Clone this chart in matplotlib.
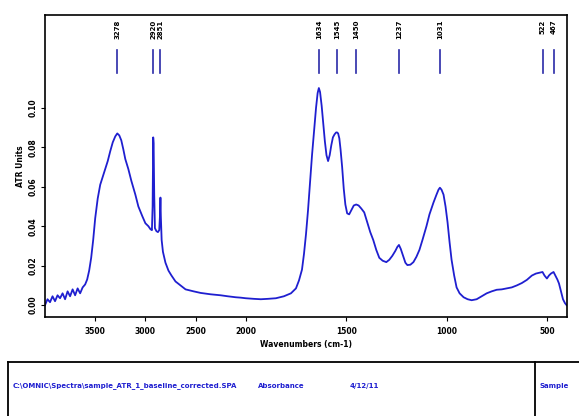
import numpy as np
import matplotlib
matplotlib.use("Agg")
from matplotlib import pyplot as plt
from matplotlib.lines import Line2D
import matplotlib.transforms as mtransforms

# spectrum (wavenumber cm-1, ATR units), 10 per row
wavenum = [4000, 3975, 3950, 3925, 3900, 3875, 3850, 3825, 3800, 3775,
           3750, 3725, 3700, 3675, 3650, 3625, 3600, 3580, 3560, 3540,
           3520, 3500, 3475, 3450, 3425, 3400, 3375, 3350, 3325, 3300,
           3280, 3260, 3240, 3220, 3200, 3170, 3140, 3100, 3070, 3030,
           3000, 2970, 2950, 2935, 2928, 2922, 2918, 2912, 2905, 2890,
           2875, 2862, 2855, 2850, 2846, 2838, 2825, 2800, 2770, 2740,
           2700, 2650, 2600, 2520, 2450, 2350, 2250, 2180, 2100, 2050,
           2000, 1960, 1925, 1890, 1850, 1810, 1775, 1750, 1735, 1720,
           1710, 1700, 1690, 1680, 1670, 1660, 1650, 1642, 1636, 1630,
           1622, 1614, 1606, 1598, 1590, 1582, 1574, 1566, 1558, 1550,
           1545, 1540, 1534, 1528, 1520, 1512, 1504, 1495, 1485, 1475,
           1462, 1450, 1438, 1425, 1410, 1395, 1380, 1365, 1350, 1335,
           1318, 1300, 1285, 1270, 1255, 1245, 1237, 1228, 1215, 1205,
           1195, 1180, 1165, 1150, 1135, 1120, 1100, 1085, 1065, 1050,
           1040, 1033, 1025, 1015, 1005, 995, 985, 975, 962, 950,
           935, 915, 895, 875, 850, 825, 800, 775, 750, 725,
           700, 675, 650, 625, 600, 575, 555, 535, 522, 512,
           500, 490, 480, 467, 458, 448, 440, 430, 420, 410,
           402]
absorb = [0.0000, 0.0030, 0.0015, 0.0045, 0.0020, 0.0050, 0.0035, 0.0060, 0.0030, 0.0070,
          0.0045, 0.0080, 0.0050, 0.0085, 0.0060, 0.0090, 0.0105, 0.0130, 0.0175, 0.0240,
          0.0330, 0.0440, 0.0540, 0.0610, 0.0650, 0.0690, 0.0730, 0.0780, 0.0825, 0.0855,
          0.0870, 0.0860, 0.0835, 0.0790, 0.0740, 0.0690, 0.0630, 0.0560, 0.0500, 0.0450,
          0.0415, 0.0400, 0.0385, 0.0380, 0.0500, 0.0850, 0.0820, 0.0560, 0.0390, 0.0375,
          0.0370, 0.0380, 0.0450, 0.0545, 0.0450, 0.0330, 0.0270, 0.0215, 0.0175, 0.0150,
          0.0120, 0.0100, 0.0080, 0.0070, 0.0062, 0.0055, 0.0050, 0.0045, 0.0040, 0.0038,
          0.0035, 0.0032, 0.0030, 0.0032, 0.0035, 0.0045, 0.0060, 0.0085, 0.0125, 0.0180,
          0.0260, 0.0360, 0.0480, 0.0620, 0.0760, 0.0880, 0.1000, 0.1075, 0.1100, 0.1080,
          0.1010, 0.0920, 0.0830, 0.0760, 0.0730, 0.0760, 0.0810, 0.0850, 0.0865, 0.0875,
          0.0875, 0.0870, 0.0845, 0.0790, 0.0700, 0.0590, 0.0510, 0.0465, 0.0460, 0.0480,
          0.0505, 0.0510, 0.0505, 0.0490, 0.0470, 0.0420, 0.0370, 0.0330, 0.0280, 0.0240,
          0.0225, 0.0218, 0.0230, 0.0250, 0.0275, 0.0295, 0.0305, 0.0285, 0.0245, 0.0215,
          0.0203, 0.0205, 0.0218, 0.0245, 0.0280, 0.0330, 0.0400, 0.0460, 0.0520, 0.0560,
          0.0585, 0.0595, 0.0585, 0.0560, 0.0500, 0.0420, 0.0320, 0.0230, 0.0150, 0.0090,
          0.0060, 0.0040, 0.0030, 0.0025, 0.0030, 0.0045, 0.0060, 0.0070, 0.0078, 0.0080,
          0.0085, 0.0090, 0.0100, 0.0112, 0.0128, 0.0150, 0.0160, 0.0165, 0.0168, 0.0150,
          0.0135, 0.0150, 0.0160, 0.0168, 0.0150, 0.0130, 0.0110, 0.0070, 0.0030, 0.0010,
          0.0000]

peak_pos = [3278, 2920, 2851, 1634, 1545, 1450, 1237, 1031, 522, 467]
peak_lbl = ["3278", "2920", "2851", "1634", "1545", "1450", "1237", "1031", "522", "467"]

xticks = [3500, 3000, 2500, 2000, 1500, 1000, 500]
yticks = [0.00, 0.02, 0.04, 0.06, 0.08, 0.10]

blue = "#1f1fd0"

# the x axis is compressed by a factor of 2 above 2000 cm-1
def fwd(w):
    w = np.asarray(w, dtype=float)
    return np.where(w > 2000, 2000 + (w - 2000) / 2.0, w)

def inv(u):
    u = np.asarray(u, dtype=float)
    return np.where(u > 2000, 2000 + (u - 2000) * 2.0, u)

fig = plt.figure(figsize=(5.79, 4.16), dpi=100)
ax = fig.add_axes([45/579, 1 - 317/416, (567 - 45)/579, (317 - 15)/416])
ax.set_xscale("function", functions=(fwd, inv))
ax.plot(wavenum, absorb, color=blue, lw=1.3)
ax.set_xlim(4000, 400)
ax.set_ylim(-0.006, 0.147)

ax.set_xticks(xticks)
ax.set_xticklabels([str(t) for t in xticks], fontsize=5.5, fontweight="bold")
ax.set_yticks(yticks)
ax.set_yticklabels(["%.2f" % t for t in yticks], fontsize=5.5, fontweight="bold",
                   rotation=90, va="center")
ax.xaxis.set_minor_locator(matplotlib.ticker.NullLocator())
ax.tick_params(length=3, width=0.8, pad=2)
ax.tick_params(axis="x", pad=4)
ax.set_xlabel("Wavenumbers (cm-1)", fontsize=5.5, fontweight="bold", labelpad=3)
ax.set_ylabel("ATR Units", fontsize=5.5, fontweight="bold", labelpad=3)
for s in ax.spines.values():
    s.set_linewidth(1.2)

# peak markers
trans = mtransforms.blended_transform_factory(ax.transData, ax.transAxes)
for p, lab in zip(peak_pos, peak_lbl):
    ax.plot([p, p], [0.808, 0.885], color="#2a2aa8", lw=1.2, transform=trans)
    ax.text(p, 0.985, lab, transform=trans, rotation=90, ha="center", va="top",
            fontsize=5, fontweight="bold")

# info table at the bottom
fig.add_artist(Line2D([8/579, 1], [1 - 362/416] * 2, color="black", lw=1.3))
fig.add_artist(Line2D([8/579, 8/579], [0, 1 - 362/416], color="black", lw=1.3))
fig.add_artist(Line2D([535/579, 535/579], [0, 1 - 362/416], color="black", lw=1.3))
ty = 1 - 386/416
fig.text(13/579, ty, "C:\\OMNIC\\Spectra\\sample_ATR_1_baseline_corrected.SPA",
         fontsize=5, color=blue, va="center", fontweight="bold")
fig.text(258/579, ty, "Absorbance", fontsize=5, color=blue, va="center", fontweight="bold")
fig.text(350/579, ty, "4/12/11", fontsize=5, color=blue, va="center", fontweight="bold")
fig.text(540/579, ty, "Sample", fontsize=5, color=blue, va="center", fontweight="bold")

fig.savefig("out.png", dpi=100)
